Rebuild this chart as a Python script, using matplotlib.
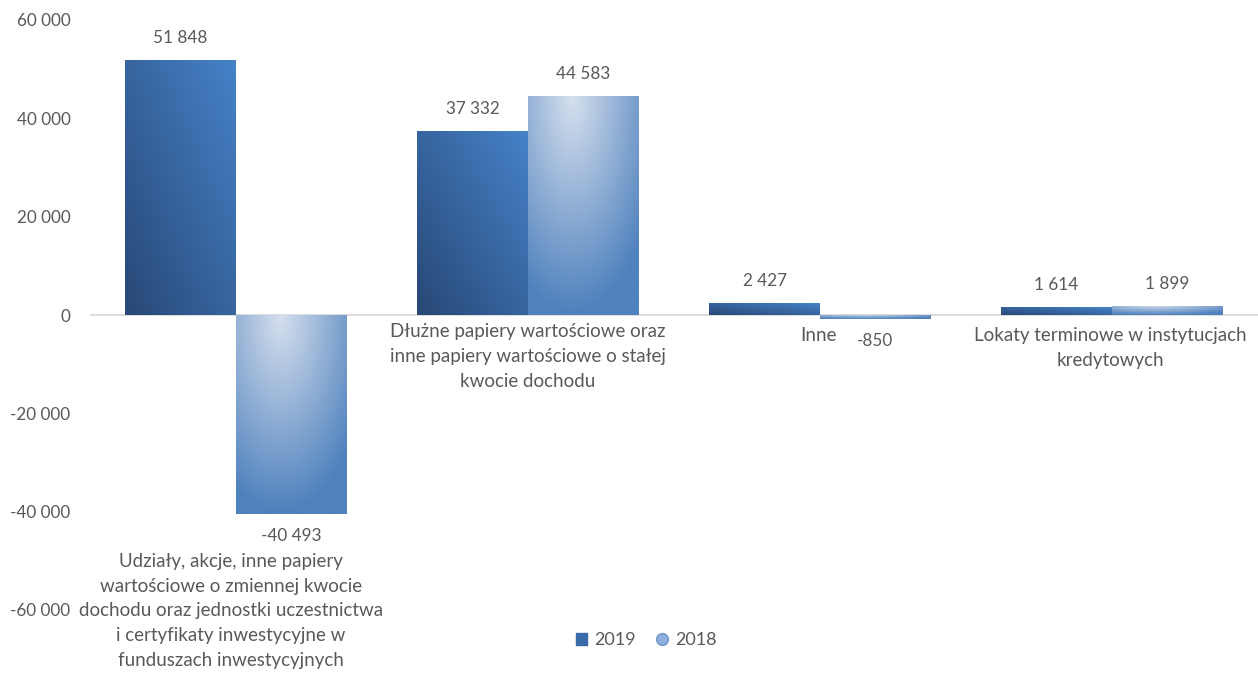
import matplotlib.pyplot as plt
import matplotlib.patches as mpatches
from matplotlib.lines import Line2D
import numpy as np

plt.rcParams['font.family'] = ['Lato', 'DejaVu Sans']

# dane
categories = [
    'Udziały, akcje, inne papiery\nwartościowe o zmiennej kwocie\ndochodu oraz jednostki uczestnictwa\ni certyfikaty inwestycyjne w\nfunduszach inwestycyjnych',
    'Dłużne papiery wartościowe oraz\ninne papiery wartościowe o stałej\nkwocie dochodu',
    'Inne',
    'Lokaty terminowe w instytucjach\nkredytowych',
]
values_2019 = [51848, 37332, 2427, 1614]
values_2018 = [-40493, 44583, -850, 1899]
labels_2019 = ['51 848', '37 332', '2 427', '1 614']
labels_2018 = ['-40 493', '44 583', '-850', '1 899']
yticks = [-60000, -40000, -20000, 0, 20000, 40000, 60000]

TXT = '#595959'
FS_NUM = 12.3
FS_CAT = 13.5
dark_a = np.array([40, 72, 118]) / 255.0
dark_b = np.array([70, 130, 200]) / 255.0
light_a = np.array([214, 224, 238]) / 255.0
light_b = np.array([79, 129, 189]) / 255.0


def grad_2019(n=60):
    u = np.linspace(0, 1, n)[None, :]
    v = np.linspace(0, 1, n)[:, None]  # 0 = top row of image
    t = 1 - np.clip((u + (1 - v)) / 2.0, 0, 1)
    return dark_b[None, None, :] * (1 - t[..., None]) + dark_a[None, None, :] * t[..., None]


def grad_2018(n=60):
    u = np.linspace(0, 1, n)[None, :]
    v = np.linspace(0, 1, n)[:, None]  # light at top
    t = np.clip(np.sqrt(((u - 0.4) * 2) ** 2 * 0.35 + v ** 2), 0, 1)
    return light_a[None, None, :] * (1 - t[..., None]) + light_b[None, None, :] * t[..., None]


fig = plt.figure(figsize=(12.58, 6.73), dpi=100)
ax = fig.add_axes([90 / 1258, 63 / 673, 1168 / 1258, 590 / 673])

x = np.arange(len(categories))
w = 0.38

bars1 = ax.bar(x - w / 2, values_2019, w, color='none', edgecolor='none')
bars2 = ax.bar(x + w / 2, values_2018, w, color='none', edgecolor='none')

for b in bars1:
    x0, y0 = b.get_x(), b.get_y()
    im = ax.imshow(grad_2019(), extent=[x0, x0 + b.get_width(), y0, y0 + b.get_height()],
                   aspect='auto', zorder=2, interpolation='bilinear')
    im.set_clip_path(b)

for b in bars2:
    x0, y0 = b.get_x(), b.get_y()
    h = b.get_height()
    im = ax.imshow(grad_2018(), extent=[x0, x0 + b.get_width(), min(y0, y0 + h), max(y0, y0 + h)],
                   aspect='auto', zorder=2, interpolation='bilinear')
    im.set_clip_path(b)

ax.set_xlim(-0.5, 3.5)
ax.set_ylim(-60000, 60000)
ax.axhline(0, color='#d9d9d9', lw=1.3, zorder=1)

for s in ax.spines.values():
    s.set_visible(False)
ax.set_xticks([])
ax.set_yticks(yticks)
ax.set_yticklabels([f'{t:,}'.replace(',', ' ') for t in yticks])
ax.tick_params(axis='y', length=0, pad=14, labelsize=FS_NUM, labelcolor=TXT)

off = 4500
for xi, v, lab in zip(x - w / 2, values_2019, labels_2019):
    ax.text(xi, v + off if v >= 0 else v - off, lab, ha='center', va='center',
            fontsize=FS_NUM, color=TXT)
for xi, v, lab in zip(x + w / 2, values_2018, labels_2018):
    ax.text(xi, v + off if v >= 0 else v - off, lab, ha='center', va='center',
            fontsize=FS_NUM, color=TXT)

# etykiety kategorii (przesuniecie x, pozycja y)
cat_shift = [-0.017, 0.0, -0.005, -0.005]
cat_y = [-48400, -1700, -2500, -2500]
for i, lab in enumerate(categories):
    ax.text(x[i] + cat_shift[i], cat_y[i], lab, ha='center', va='top',
            fontsize=FS_CAT, color=TXT, linespacing=1.55)

handles = [mpatches.Patch(color='#3a6aa8', label='2019'),
           Line2D([0], [0], marker='o', ls='none', markersize=8.5,
                  markerfacecolor='#8fb0dc', markeredgecolor='#6f96cc', label='2018')]
fig.legend(handles=handles, loc='center', bbox_to_anchor=(646 / 1258, 1 - 640 / 673),
           ncol=2, frameon=False, fontsize=13, labelcolor=TXT, handlelength=0.65,
           handleheight=0.65, handletextpad=0.4, columnspacing=1.1)

fig.savefig('out.png', dpi=100)
